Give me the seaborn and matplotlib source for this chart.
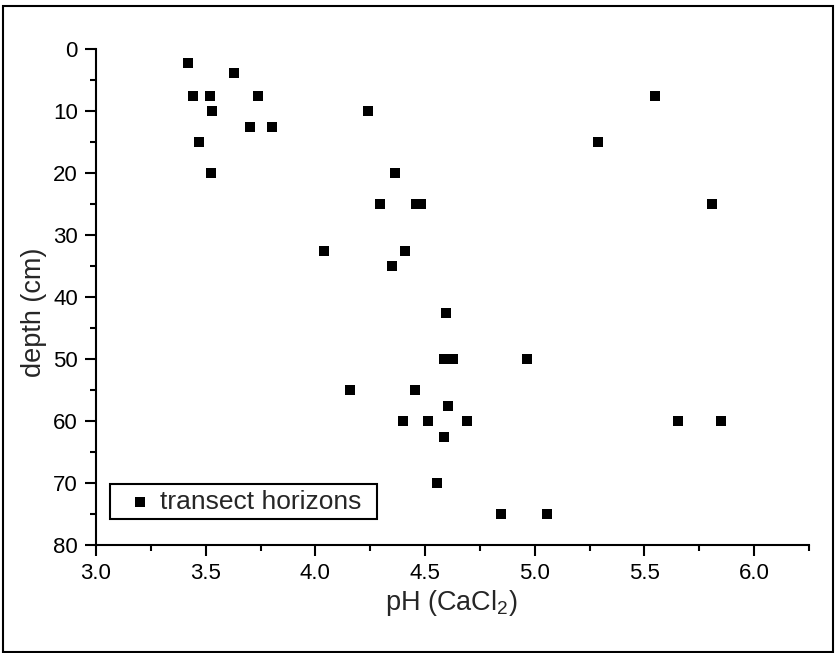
import matplotlib
matplotlib.use("Agg")
import matplotlib.pyplot as plt
import seaborn as sns
import pandas as pd
from matplotlib.ticker import MultipleLocator
from matplotlib.patches import Rectangle

# Data
ph = [3.42, 3.63, 3.44, 3.52, 3.74, 5.55, 3.53, 4.24, 3.70, 3.80, 3.47, 5.29,
      3.525, 4.365, 4.295, 4.46, 4.48, 5.81, 4.04, 4.41, 4.35, 4.595, 4.585,
      4.625, 4.965, 4.16, 4.455, 4.605, 4.40, 4.515, 4.69, 5.655, 5.85, 4.585,
      4.555, 4.845, 5.055]
depth = [2.2, 3.9, 7.5, 7.5, 7.5, 7.5, 10, 10, 12.5, 12.5, 15, 15,
         20, 20, 25, 25, 25, 25, 32.5, 32.5, 35, 42.5, 50,
         50, 50, 55, 55, 57.5, 60, 60, 60, 60, 60, 62.5,
         70, 75, 75]
series_label = "transect horizons"
x_ticks = [3.0, 3.5, 4.0, 4.5, 5.0, 5.5, 6.0]
y_ticks = [0, 10, 20, 30, 40, 50, 60, 70, 80]

df = pd.DataFrame({"pH": ph, "depth": depth})

sns.set_theme(style="ticks")
plt.rcParams["font.family"] = ["Liberation Sans", "DejaVu Sans"]

W, H = 836, 653
fig = plt.figure(figsize=(W / 100, H / 100), dpi=100)
ax = fig.add_axes([96 / W, 1 - 545 / H, (809 - 96) / W, (545 - 49) / H])

sns.scatterplot(data=df, x="pH", y="depth", marker="s", color="black",
                s=50, linewidth=0, label=series_label, ax=ax)

ax.set_xlim(3.0, 6.25)
ax.set_ylim(80, 0)
ax.set_xticks(x_ticks)
ax.set_xticklabels([f"{v:.1f}" for v in x_ticks])
ax.set_yticks(y_ticks)
ax.set_yticklabels([str(v) for v in y_ticks])
ax.xaxis.set_minor_locator(MultipleLocator(0.25))
ax.yaxis.set_minor_locator(MultipleLocator(5))

for s in ["top", "right"]:
    ax.spines[s].set_visible(False)
for s in ["left", "bottom"]:
    ax.spines[s].set_linewidth(1.5)
    ax.spines[s].set_color("black")

ax.tick_params(which="major", direction="out", length=8, width=1.5,
               labelsize=16, pad=5, colors="black")
ax.tick_params(which="minor", direction="out", length=4, width=1.5,
               colors="black")

ax.set_xlabel(r"pH (CaCl$_{\mathregular{2}}$)", fontsize=19.5)
ax.set_ylabel("depth (cm)", fontsize=19.5)
ax.xaxis.set_label_coords(0.498, -0.086)
ax.yaxis.set_label_coords(-0.069, 0.47)

leg = ax.legend(loc="lower left",
                bbox_to_anchor=(14 / 713, 26 / 496, 267 / 713, 37 / 496),
                mode="expand", borderaxespad=0, fontsize=19, frameon=True,
                fancybox=False, framealpha=1, edgecolor="black",
                borderpad=0.2, handlelength=1.87, handletextpad=-0.18,
                markerscale=1.0)
leg.get_frame().set_linewidth(1.5)

fig.patches.append(Rectangle((3 / W, 1 / H), (833 - 3) / W, (647 - 1) / H,
                             transform=fig.transFigure, fill=False,
                             edgecolor="black", linewidth=1.5))

fig.savefig("out.png", dpi=100)
